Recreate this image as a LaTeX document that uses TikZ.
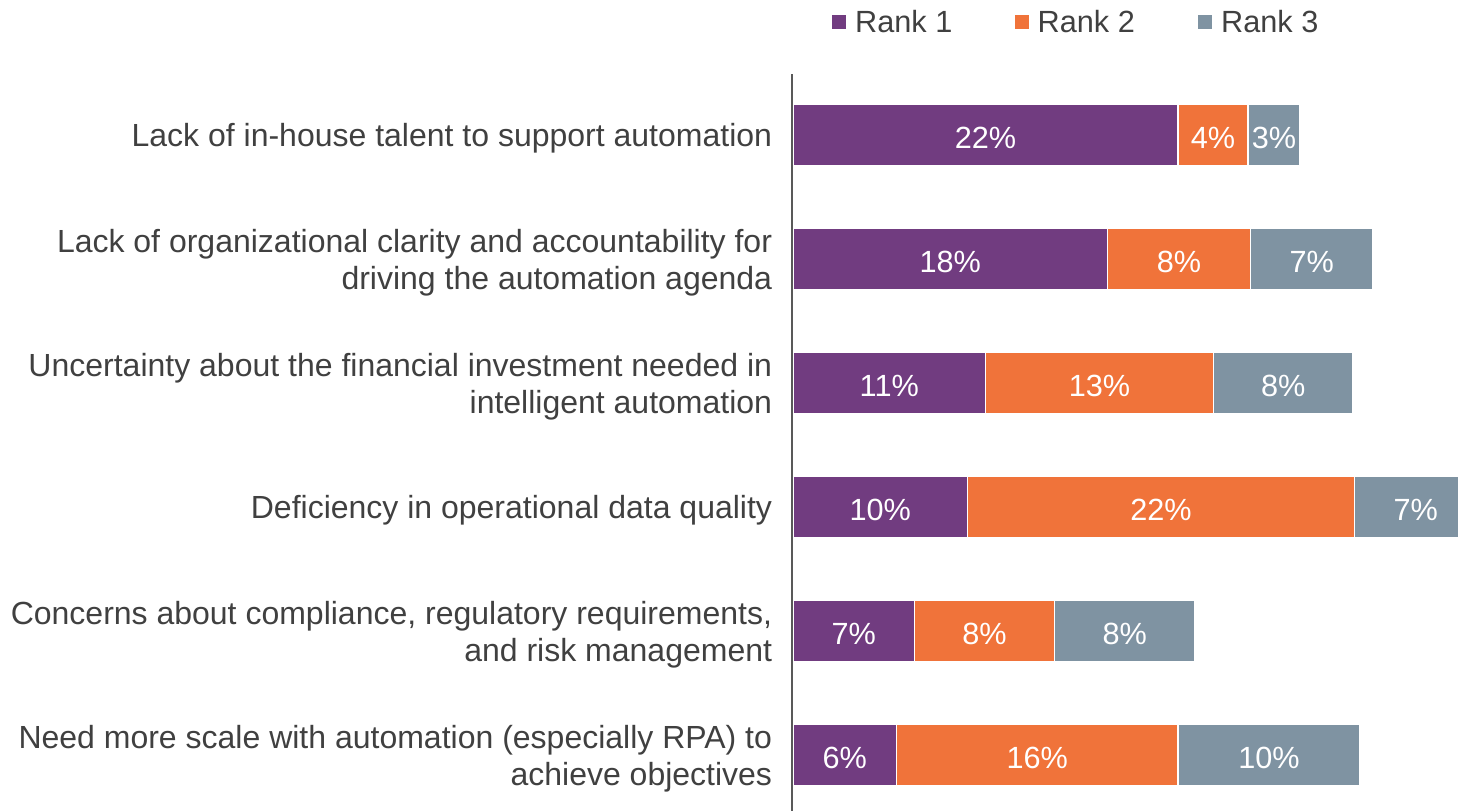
\documentclass[tikz,border=0pt]{standalone}
\usepackage{fontspec}
\setmainfont{Liberation Sans}
\usetikzlibrary{positioning}
\definecolor{rankone}{HTML}{713C80}
\definecolor{ranktwo}{HTML}{F0733A}
\definecolor{rankthree}{HTML}{7F93A2}
\definecolor{txtgray}{HTML}{404040}
\definecolor{axgray}{HTML}{595959}
\newcommand{\chartfont}{\fontsize{23}{27.75}\selectfont}
\newcommand{\labfont}{\fontsize{24}{27.75}\selectfont}
\tikzstyle{seg} = [rectangle, draw=white, line width=1.1pt, minimum height=46.5pt,
inner sep=0pt, outer sep=0pt, text=white, font=\chartfont, text height=19.5pt, text depth=0pt]
\tikzstyle{lab} = [anchor=east, align=right, inner sep=0pt, text=txtgray, font=\labfont]

\begin{document}
\begin{tikzpicture}[x=0.75pt, y=-0.75pt]
  \tikzstyle{key}=[rectangle, inner sep=0pt, minimum size=10.5pt]
  \tikzstyle{keytxt}=[inner sep=0pt, text=txtgray, font=\chartfont]

  \useasboundingbox (0,0) rectangle (1458,811);
  \clip (0,0) rectangle (1458,811);

  % legend
  \node (k1) [key, fill=rankone] at (839,22) {};
  \node (t1) [keytxt, right=6.5pt of k1] {Rank 1};
  \node (k2) [key, fill=ranktwo] at (1021.5,22) {};
  \node (t2) [keytxt, right=6.5pt of k2] {Rank 2};
  \node (k3) [key, fill=rankthree] at (1205,22) {};
  \node (t3) [keytxt, right=6.5pt of k3] {Rank 3};

  % bars
  \node (s1a) [seg, fill=rankone, anchor=west, minimum width=288.75pt] at (793,135) {22\%};
  \node (s1b) [seg, fill=ranktwo, minimum width=52.5pt, right=0pt of s1a] {4\%};
  \node (s1c) [seg, fill=rankthree, minimum width=39pt, right=0pt of s1b] {3\%};

  \node (s2a) [seg, fill=rankone, anchor=west, minimum width=235.9pt] at (793,259) {18\%};
  \node (s2b) [seg, fill=ranktwo, minimum width=107.25pt, right=0pt of s2a] {8\%};
  \node (s2c) [seg, fill=rankthree, minimum width=91.9pt, right=0pt of s2b] {7\%};

  \node (s3a) [seg, fill=rankone, anchor=west, minimum width=144.4pt] at (793,383) {11\%};
  \node (s3b) [seg, fill=ranktwo, minimum width=171pt, right=0pt of s3a] {13\%};
  \node (s3c) [seg, fill=rankthree, minimum width=104.6pt, right=0pt of s3b] {8\%};

  \node (s4a) [seg, fill=rankone, anchor=west, minimum width=130.9pt] at (793,507) {10\%};
  \node (s4b) [seg, fill=ranktwo, minimum width=290.25pt, right=0pt of s4a] {22\%};
  \node (s4c) [seg, fill=rankthree, minimum width=91.9pt, right=0pt of s4b] {7\%};

  \node (s5a) [seg, fill=rankone, anchor=west, minimum width=91.1pt] at (793,631) {7\%};
  \node (s5b) [seg, fill=ranktwo, minimum width=105pt, right=0pt of s5a] {8\%};
  \node (s5c) [seg, fill=rankthree, minimum width=105.4pt, right=0pt of s5b] {8\%};

  \node (s6a) [seg, fill=rankone, anchor=west, minimum width=77.6pt] at (793,755) {6\%};
  \node (s6b) [seg, fill=ranktwo, minimum width=211.1pt, right=0pt of s6a] {16\%};
  \node (s6c) [seg, fill=rankthree, minimum width=136.5pt, right=0pt of s6b] {10\%};

  % category labels
  \node (l1) [lab, left=15.5pt of s1a.west, yshift=-2.5pt] {Lack of in-house talent to support automation};
  \node (l2) [lab, left=15.5pt of s2a.west, yshift=-2.5pt] {Lack of organizational clarity and accountability for\\driving the automation agenda};
  \node (l3) [lab, left=15.5pt of s3a.west, yshift=-2.5pt] {Uncertainty about the financial investment needed in\\intelligent automation};
  \node (l4) [lab, left=15.5pt of s4a.west, yshift=-2.5pt] {Deficiency in operational data quality};
  \node (l5) [lab, left=15.5pt of s5a.west, yshift=-2.5pt] {Concerns about compliance, regulatory requirements,\\and risk management};
  \node (l6) [lab, left=15.5pt of s6a.west, yshift=-2.5pt] {Need more scale with automation (especially RPA) to\\achieve objectives};

  % axis
  \coordinate (axtop) at (792,74);
  \coordinate (axbot) at (792,811);
  \draw[axgray, line width=1.5pt] (axtop) -- (axbot);
\end{tikzpicture}
\end{document}
